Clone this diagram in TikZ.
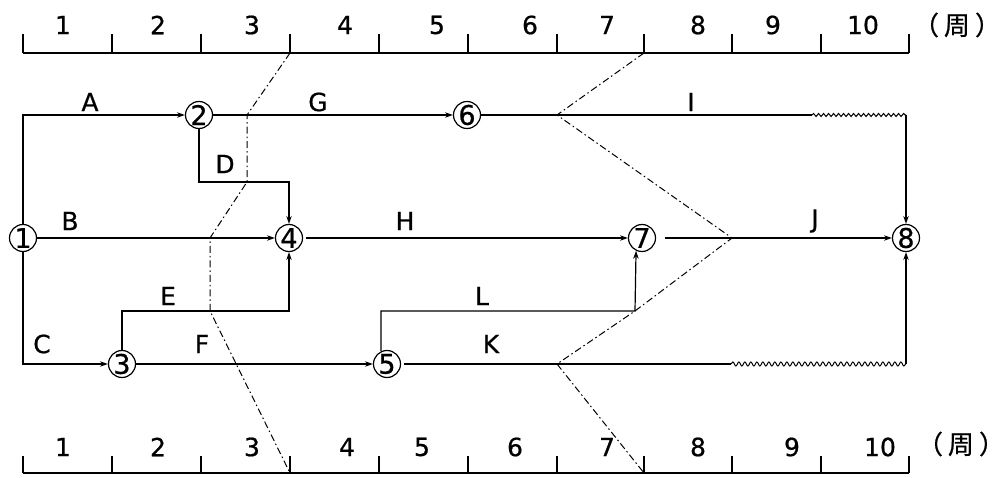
\documentclass[tikz,border=0pt]{standalone}
\usepackage{fontspec}
\setmainfont[FakeBold=0.7]{DejaVu Sans}
\newfontfamily\cjk[FakeBold=0.7]{Noto Sans CJK SC}
\usetikzlibrary{arrows.meta,decorations.pathmorphing}
\begin{document}
\begin{tikzpicture}[x=1pt,y=-1pt,
  ln/.style={line width=1.2pt},
  arr/.style={ln,-{Stealth[length=8pt,width=5.5pt]}},
  ev/.style={circle,draw,line width=1.2pt,inner sep=-6pt,minimum size=27pt,font=\fontsize{27}{27}\selectfont},
  lab/.style={font=\fontsize{25}{25}\selectfont},
  sc/.style={font=\fontsize{25}{25}\selectfont},
  unit/.style={font=\cjk\fontsize{26}{26}\selectfont},
  prog/.style={line width=1pt,dash pattern=on 7pt off 3pt on 1.5pt off 3pt},
  wave/.style={line width=1pt,decorate,decoration={snake,segment length=5pt,amplitude=1.5pt}},
  wavek/.style={line width=1pt,decorate,decoration={snake,segment length=6pt,amplitude=2pt}}]
\useasboundingbox (0,0) rectangle (1005,478);
% ---- scales ----
\foreach \x [count=\i from 0] in {23,112,201,290,379,468,557,644,732,821,909}{
  \coordinate (t\i) at (\x,53);
  \coordinate (b\i) at (\x,473);
  \draw[ln] (\x,34) -- (t\i);
  \draw[ln] (\x,456) -- (b\i);
}
\draw[ln] (t0) -- (t10);
\draw[ln] (b0) -- (b10);
\foreach \x/\t [count=\i] in {63/1,158/2,252/3,345/4,437/5,530/6,607/7,698/8,773/9,863/10}
  \node[sc] (ut\i) at (\x,25) {\t};
\foreach \x/\t [count=\i] in {63/1,158/2,252/3,347/4,422/5,515/6,607/7,698/8,792/9,880/10}
  \node[sc] (lt\i) at (\x,447) {\t};
\node[unit] (uu) at (957,25) {（\hspace{5pt}周\hspace{5pt}）};
\node[unit] (lu) at (961,444) {（\hspace{5pt}周\hspace{5pt}）};
% ---- events ----
\node[ev] (n1) at (23,238) {1};
\node[ev] (n2) at (199,115) {2};
\node[ev] (n6) at (467,115) {6};
\node[ev] (n4) at (289,238) {4};
\node[ev] (n7) at (642,238) {7};
\node[ev] (n8) at (906,238) {8};
\node[ev] (n3) at (122,364) {3};
\node[ev] (n5) at (387,364) {5};
\coordinate (rowD) at (0,182);
\coordinate (rowE) at (0,311);
\coordinate (lc) at (635,311);
\coordinate (iw1) at (812,115);
\coordinate (iw2) at (n8 |- n6);
\coordinate (kw1) at (731,364);
\coordinate (kw2) at (n8 |- n5);
% ---- activities ----
\draw[arr] (n1.north) |- (n2);
\draw[arr] (n2) -- (n6);
\draw[ln] (n6.east) -- (iw1);
\draw[wave] (iw1) -- (iw2);
\draw[arr] (iw2) -- (n8.north);
\draw[arr] (n2.south) |- (rowD -| n4) -- (n4.north);
\draw[arr] (n1) -- (n4);
\draw[arr,shorten <=3pt] (n4) -- (n7);
\draw[arr,shorten <=9pt] (n7) -- (n8);
\draw[arr] (n1.south) |- (n3);
\draw[arr] (n3.north) |- (rowE -| n4) -- (n4.south);
\draw[arr] (n3) -- (n5);
\draw[arr] (n5.115) |- (lc) -- (n7.245);
\draw[ln,shorten <=3pt] (n5.east) -- (kw1);
\draw[wavek] (kw1) -- (kw2);
\draw[arr] (kw2) -- (n8.south);
% ---- labels ----
\node[lab] (lA) at (90,102) {A};
\node[lab] (lG) at (318,102) {G};
\node[lab] (lI) at (691,102) {I};
\node[lab] (lD) at (225,164) {D};
\node[lab] (lB) at (70,221) {B};
\node[lab] (lH) at (405,221) {H};
\node[lab] (lJ) at (815,221) {J};
\node[lab] (lE) at (168,296) {E};
\node[lab] (lL) at (482,296) {L};
\node[lab] (lC) at (42,344) {C};
\node[lab] (lF) at (202,344) {F};
\node[lab] (lK) at (491,344) {K};
% ---- progress lines ----
\coordinate (p1) at (247,115);
\coordinate (p2) at (247,182);
\coordinate (p3) at (210,238);
\coordinate (p4) at (210,311);
\draw[prog] (t3) -- (p1) -- (p2) -- (p3) -- (p4) -- (b3);
\coordinate (q1) at (557,115);
\coordinate (q2) at (732,238);
\coordinate (q3) at (557,364);
\draw[prog] (t7) -- (q1) -- (q2) -- (lc) -- (q3) -- (b7);
\end{tikzpicture}
\end{document}
